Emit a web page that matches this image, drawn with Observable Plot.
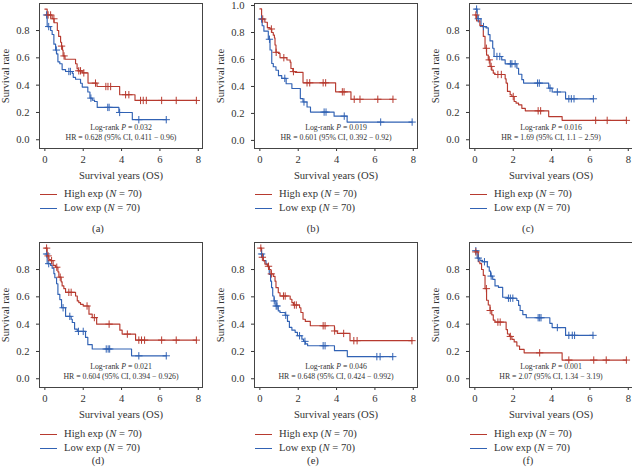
<!DOCTYPE html>
<html><head><meta charset="utf-8">
<script src="https://cdn.jsdelivr.net/npm/d3@7"></script>
<script src="https://cdn.jsdelivr.net/npm/@observablehq/plot@0.6"></script>
<style>
html,body{margin:0;padding:0;background:#fff}
body{width:632px;height:475px;overflow:hidden;position:relative;font-family:"Liberation Serif","Times New Roman",serif;color:#333}
.panel{position:absolute;width:215px;height:240px}
.panel svg{position:absolute;left:0;top:0;overflow:visible}
.ann{position:absolute;font-size:7.8px;line-height:10px;white-space:nowrap;transform:translateX(-50%);color:#333}
.leg{position:absolute;font-size:10.6px;line-height:14px;white-space:nowrap;color:#333}
.sw{position:absolute;width:17px;height:1.3px}
.cap{position:absolute;font-size:10.6px;line-height:14px;transform:translateX(-50%);color:#333}
</style>
</head><body>
<script>
// ---- data (time in years, survival probability) ----
const captions = ["(a)","(b)","(c)","(d)","(e)","(f)"];
const logrankP = ["0.032","0.019","0.016","0.021","0.046","0.001"];
const hr = ["0.628","0.601","1.69","0.604","0.648","2.07"];
const ciLow = ["0.411","0.392","1.1","0.394","0.424","1.34"];
const ciHigh = ["0.96","0.92","2.59","0.926","0.992","3.19"];
const groupN = [70, 70];
const groupNames = ["High exp", "Low exp"];
const xTicks = [0, 2, 4, 6, 8];
const yTicksA = [0, 0.2, 0.4, 0.6, 0.8];
const yTicksB = [0, 0.2, 0.4, 0.6, 0.8, 1.0];

// (a)
const aHigh = [[0,0.957],[0.12,0.914],[0.38,0.886],[0.48,0.857],[0.65,0.80],[0.72,0.757],[0.82,0.714],[0.87,0.686],[0.92,0.657],[0.95,0.614],[1.05,0.59],[1.6,0.557],[1.68,0.52],[1.75,0.505],[1.95,0.49],[2.25,0.415],[2.72,0.39],[3.9,0.33],[4.7,0.288]];
const aHighCens = [0.17,0.3,0.47,0.87,1.0,1.77,1.86,2.03,2.64,3.18,3.29,3.43,4.21,4.38,4.99,5.13,5.29,6.09,6.85,7.9];
const aLow = [[0,0.914],[0.12,0.829],[0.3,0.8],[0.38,0.771],[0.47,0.7],[0.56,0.657],[0.61,0.629],[0.68,0.571],[0.78,0.557],[0.9,0.514],[1.08,0.5],[1.43,0.486],[1.48,0.457],[1.6,0.443],[1.86,0.414],[1.95,0.386],[2.24,0.35],[2.35,0.305],[2.47,0.29],[2.59,0.28],[2.73,0.237],[3.86,0.2],[4.56,0.147]];
const aLowCens = [0.09,0.2,0.6,1.25,1.33,2.4,3.28,3.35,3.9,4.9,6.33];
// (b)
const bHigh = [[0,0.975],[0.09,0.9],[0.26,0.876],[0.39,0.836],[0.53,0.826],[0.62,0.8],[0.7,0.78],[0.76,0.76],[0.79,0.707],[0.84,0.653],[0.97,0.645],[1.05,0.613],[1.41,0.596],[1.58,0.58],[1.62,0.533],[1.72,0.51],[1.85,0.504],[2.25,0.427],[3.95,0.36],[4.75,0.305]];
const bHighCens = [0.15,0.6,0.85,1.25,1.75,2.46,2.6,3.3,3.43,4.3,4.39,4.92,5.22,6.15,6.94];
const bLow = [[0,0.9],[0.12,0.85],[0.21,0.81],[0.44,0.75],[0.53,0.67],[0.62,0.57],[0.7,0.546],[0.84,0.52],[0.97,0.48],[1.14,0.46],[1.37,0.42],[1.67,0.385],[2.11,0.31],[2.25,0.285],[2.46,0.248],[2.64,0.21],[3.87,0.18],[4.55,0.136]];
const bLowCens = [0.09,0.5,1.3,2.3,3.35,3.45,4.4,6.3,7.94];
// (c)
const cHigh = [[0,0.914],[0.09,0.871],[0.26,0.837],[0.44,0.757],[0.53,0.67],[0.61,0.62],[0.7,0.585],[0.79,0.537],[0.88,0.51],[0.96,0.488],[1.05,0.478],[1.58,0.446],[1.63,0.415],[1.7,0.354],[1.84,0.33],[1.93,0.317],[2.05,0.28],[2.15,0.268],[2.28,0.256],[2.45,0.23],[2.63,0.212],[3.85,0.17],[4.55,0.142]];
const cHighCens = [0.05,0.6,0.75,0.85,1.2,1.38,2.0,3.3,3.43,6.3,6.9,7.9];
const cLow = [[0,0.957],[0.12,0.886],[0.32,0.837],[0.4,0.829],[0.58,0.82],[0.7,0.77],[0.79,0.724],[0.93,0.67],[1.0,0.61],[1.4,0.585],[1.58,0.556],[2.19,0.524],[2.28,0.48],[2.45,0.44],[2.54,0.415],[3.85,0.378],[4.03,0.35],[4.73,0.30]];
const cLowCens = [0.09,0.18,0.45,1.15,1.3,1.85,1.93,2.1,3.27,3.36,3.92,4.3,4.9,5.03,5.17,6.18];
// (d)
const dHigh = [[0,0.957],[0.12,0.9],[0.21,0.873],[0.3,0.865],[0.43,0.83],[0.56,0.817],[0.68,0.783],[0.73,0.744],[0.85,0.71],[0.9,0.68],[0.99,0.66],[1.08,0.633],[1.6,0.606],[1.69,0.57],[1.77,0.558],[1.86,0.545],[2.0,0.533],[2.3,0.473],[2.47,0.448],[2.7,0.4],[3.91,0.356],[4.03,0.327],[4.73,0.283]];
const dHighCens = [0.09,0.17,0.35,0.62,0.8,1.25,1.37,2.2,2.58,3.35,4.3,4.9,5.04,5.2,6.09,6.85,7.9];
const dLow = [[0,0.914],[0.12,0.843],[0.3,0.83],[0.38,0.81],[0.47,0.77],[0.52,0.74],[0.61,0.696],[0.68,0.618],[0.78,0.58],[0.87,0.52],[1.08,0.457],[1.37,0.436],[1.43,0.412],[1.55,0.364],[1.69,0.347],[2.12,0.303],[2.24,0.25],[2.47,0.218],[4.52,0.168]];
const dLowCens = [0.09,0.2,0.95,1.3,1.75,2.0,3.2,3.3,3.38,4.9,6.33];
// (e)
const eHigh = [[0,0.957],[0.09,0.89],[0.18,0.865],[0.26,0.84],[0.39,0.824],[0.49,0.8],[0.58,0.768],[0.7,0.75],[0.79,0.715],[0.84,0.667],[0.96,0.63],[1.05,0.606],[1.58,0.582],[1.67,0.558],[1.75,0.54],[2.07,0.52],[2.14,0.485],[2.25,0.436],[2.37,0.42],[2.63,0.388],[3.89,0.35],[4.04,0.332],[4.7,0.279]];
const eHighCens = [0.05,0.13,0.45,0.6,1.23,1.32,1.8,1.9,3.3,3.4,3.9,4.37,4.9,5.07,7.93];
const eLow = [[0,0.914],[0.18,0.865],[0.32,0.84],[0.44,0.817],[0.49,0.764],[0.56,0.715],[0.61,0.667],[0.67,0.606],[0.74,0.57],[0.84,0.533],[0.96,0.497],[1.05,0.485],[1.32,0.465],[1.44,0.42],[1.54,0.376],[1.67,0.356],[1.84,0.34],[1.96,0.315],[2.19,0.29],[2.28,0.274],[2.37,0.255],[2.49,0.242],[3.89,0.206],[4.56,0.162]];
const eLowCens = [0.09,0.75,0.85,0.9,1.35,2.07,2.35,3.3,3.4,6.1,6.27,6.93];
// (f)
const fHigh = [[0,0.929],[0.18,0.857],[0.26,0.843],[0.35,0.8],[0.44,0.757],[0.53,0.66],[0.61,0.575],[0.7,0.54],[0.79,0.5],[0.88,0.468],[0.96,0.43],[1.05,0.415],[1.63,0.36],[1.7,0.328],[1.8,0.31],[1.93,0.288],[2.05,0.27],[2.19,0.24],[2.33,0.215],[2.57,0.19],[4.55,0.137]];
const fHighCens = [0.05,0.6,0.8,1.2,1.32,1.85,3.38,4.9,6.2,6.85,7.9];
const fLow = [[0,0.938],[0.12,0.884],[0.26,0.867],[0.4,0.857],[0.65,0.82],[0.75,0.788],[0.82,0.752],[0.93,0.728],[1.05,0.68],[1.23,0.669],[1.45,0.597],[1.7,0.59],[2.19,0.573],[2.28,0.537],[2.36,0.5],[2.5,0.47],[2.68,0.447],[3.91,0.406],[4.03,0.375],[4.73,0.318]];
const fLowCens = [0.05,0.18,0.5,0.85,1.75,1.85,1.98,3.3,3.38,3.45,4.3,4.9,5.08,5.2,6.16];

const RED = "#b73a2f", BLUE = "#3162b4";

const panels = [
  {high:aHigh, highC:aHighCens, low:aLow, lowC:aLowCens, yDomain:[-0.064,0.998], yTicks:yTicksA},
  {high:bHigh, highC:bHighCens, low:bLow, lowC:bLowCens, yDomain:[-0.06,1.015], yTicks:yTicksB},
  {high:cHigh, highC:cHighCens, low:cLow, lowC:cLowCens, yDomain:[-0.064,0.998], yTicks:yTicksA},
  {high:dHigh, highC:dHighCens, low:dLow, lowC:dLowCens, yDomain:[-0.064,0.998], yTicks:yTicksA},
  {high:eHigh, highC:eHighCens, low:eLow, lowC:eLowCens, yDomain:[-0.064,0.998], yTicks:yTicksA},
  {high:fHigh, highC:fHighCens, low:fLow, lowC:fLowCens, yDomain:[-0.064,0.998], yTicks:yTicksA}
];

function stepAt(steps, t) {
  let s = steps[0][1];
  for (const [st, sv] of steps) { if (st <= t) s = sv; }
  return s;
}
function curve(steps, cens) {
  const end = d3.max(cens);
  const pts = steps.map(([t, s]) => ({t, s}));
  pts.push({t: end, s: stepAt(steps, end)});
  return pts;
}
function marks(steps, cens) {
  return cens.map(t => ({t, s: stepAt(steps, t)}));
}

const rowTop = [1, 240];
const capY = [229, 461];
const legY = [194, 434];

panels.forEach((p, i) => {
  const col = i % 3, row = Math.floor(i / 3);
  const div = document.createElement("div");
  div.className = "panel";
  div.style.left = (col * 215) + "px";
  div.style.top = rowTop[row] + "px";
  document.body.appendChild(div);

  const chart = Plot.plot({
    width: 205, height: 180,
    marginLeft: 39, marginRight: 3, marginTop: 2, marginBottom: 33,
    style: {fontFamily: "Liberation Serif, serif", fontSize: "10.6px", color: "#333", background: "transparent", overflow: "visible"},
    x: {domain: [-0.28, 8.22], ticks: xTicks, tickSize: 3, tickPadding: 4,
        label: "Survival years (OS)", labelAnchor: "center", labelOffset: 30, labelArrow: "none"},
    y: {domain: p.yDomain, ticks: p.yTicks, tickFormat: d3.format(".1f"), tickSize: 3, tickPadding: 7,
        label: "Survival rate", labelAnchor: "center", labelOffset: 38, labelArrow: "none"},
    marks: [
      Plot.frame({stroke: "#444", strokeWidth: 1}),
      Plot.line(curve(p.low, p.lowC), {x: "t", y: "s", curve: "step-after", stroke: BLUE, strokeWidth: 1.15}),
      Plot.line(curve(p.high, p.highC), {x: "t", y: "s", curve: "step-after", stroke: RED, strokeWidth: 1.15}),
      Plot.dot(marks(p.low, p.lowC), {x: "t", y: "s", symbol: "plus", r: 2.5, stroke: BLUE, strokeWidth: 1}),
      Plot.dot(marks(p.high, p.highC), {x: "t", y: "s", symbol: "plus", r: 2.5, stroke: RED, strokeWidth: 1})
    ]
  });
  div.appendChild(chart);

  // annotation
  const a1 = document.createElement("div");
  a1.className = "ann"; a1.style.left = "121px"; a1.style.top = "122px";
  a1.innerHTML = `Log-rank <i>P</i> = ${logrankP[i]}`;
  div.appendChild(a1);
  const a2 = document.createElement("div");
  a2.className = "ann"; a2.style.left = "121px"; a2.style.top = "132px";
  a2.textContent = `HR = ${hr[i]} (95% CI, ${ciLow[i]} − ${ciHigh[i]})`;
  div.appendChild(a2);

  // legend
  [RED, BLUE].forEach((c, k) => {
    const cy = legY[row] + k * 14;
    const sw = document.createElement("div");
    sw.className = "sw"; sw.style.background = c;
    sw.style.left = (col * 215 + 40) + "px"; sw.style.top = (cy - 0.5) + "px";
    document.body.appendChild(sw);
    const t = document.createElement("div");
    t.className = "leg";
    t.style.left = (col * 215 + 64) + "px"; t.style.top = (cy - 7) + "px";
    t.innerHTML = `${groupNames[k]} (<i>N</i> = ${groupN[k]})`;
    document.body.appendChild(t);
  });
  const cap = document.createElement("div");
  cap.className = "cap";
  cap.style.left = (col * 215 + 98) + "px"; cap.style.top = (capY[row] - 7) + "px";
  cap.textContent = captions[i];
  document.body.appendChild(cap);
});
</script>
</body></html>
